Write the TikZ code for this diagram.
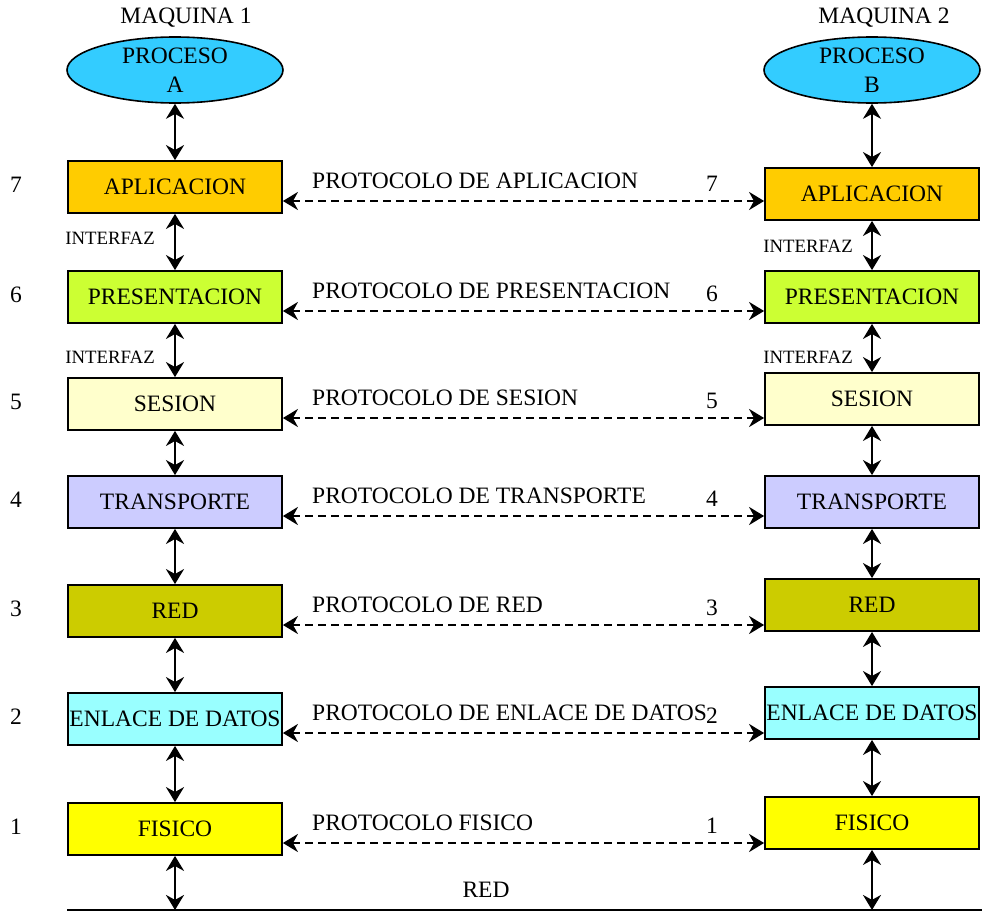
\documentclass[tikz,border=0pt]{standalone}
\usepackage{fontspec}
\setmainfont{Liberation Serif}
\usetikzlibrary{shapes.geometric,arrows.meta,calc}

\definecolor{proc}{HTML}{33CCFF}
\definecolor{capa7}{HTML}{FFCC00}
\definecolor{capa6}{HTML}{CCFF33}
\definecolor{capa5}{HTML}{FFFFCC}
\definecolor{capa4}{HTML}{CCCCFF}
\definecolor{capa3}{HTML}{CCCC00}
\definecolor{capa2}{HTML}{99FFFF}
\definecolor{capa1}{HTML}{FFFF00}

\begin{document}
\begin{tikzpicture}[
    x=1pt, y=-1pt,
    layer/.style={draw, line width=1.8pt, minimum width=214pt, minimum height=52pt, inner xsep=1pt, font=\fontsize{23.5}{27}\selectfont},
    proceso/.style={ellipse, draw, line width=1.6pt, fill=proc, minimum width=216pt, minimum height=66pt, inner sep=0pt, align=center, font=\fontsize{23.5}{29}\selectfont},
    link/.style={line width=2.2pt, {Stealth[length=15pt,width=18pt]}-{Stealth[length=15pt,width=18pt]}},
    proto/.style={link, line width=2.6pt, dash pattern=on 8pt off 5pt},
    biglabel/.style={font=\fontsize{23.5}{27}\selectfont, inner sep=0pt},
    smalllabel/.style={font=\fontsize{18.8}{21}\selectfont, inner sep=0pt},
]
\useasboundingbox (0,0) rectangle (982,912);

\def\xl{175}  \def\xr{872}

% Machines and processes
\node[biglabel] (m1) at (186,18) {MAQUINA 1};
\node[biglabel] (m2) at (884,18) {MAQUINA 2};
\node[proceso] (procA) at (\xl,70) {PROCESO\\A};
\node[proceso] (procB) at (\xr,70) {PROCESO\\B};

% Layers, numbers and peer protocols
\foreach \n/\txt/\col/\yl/\yr/\ptxt in {
    7/APLICACION/capa7/187/194/PROTOCOLO DE APLICACION,
    6/PRESENTACION/capa6/297/297/PROTOCOLO DE PRESENTACION,
    5/SESION/capa5/404/399/PROTOCOLO DE SESION,
    4/TRANSPORTE/capa4/502/502/PROTOCOLO DE TRANSPORTE,
    3/RED/capa3/611/605/PROTOCOLO DE RED,
    2/ENLACE DE DATOS/capa2/719/713/PROTOCOLO DE ENLACE DE DATOS,
    1/FISICO/capa1/829/823/PROTOCOLO FISICO} {
    \node[layer, fill=\col] (l\n) at (\xl,\yl) {\txt};
    \node[layer, fill=\col] (r\n) at (\xr,\yr) {\txt};
    \node[biglabel] (nl\n) at (16,\yl-2) {\n};
    \draw[proto] ([yshift=-14pt]l\n.east) coordinate (a\n) -- (a\n -| r\n.west);
    \node[biglabel, anchor=west] (p\n) at (312,\yl-6) {\ptxt};
    \node[biglabel] (nr\n) at (712,\yl-3) {\n};
}

% Interfaces between layers
\draw[link] (procA) -- (l7);
\draw[link] (procB) -- (r7);
\foreach \a/\b in {7/6,6/5,5/4,4/3,3/2,2/1} {
    \draw[link] (l\a) -- (l\b);
    \draw[link] (r\a) -- (r\b);
}
\node[smalllabel] (il1) at (110,238) {INTERFAZ};
\node[smalllabel] (il2) at (110,357) {INTERFAZ};
\node[smalllabel] (ir1) at (808,246) {INTERFAZ};
\node[smalllabel] (ir2) at (808,357) {INTERFAZ};

% Physical network
\coordinate (netA) at (67,910);
\coordinate (netB) at (982,910);
\draw[line width=1.2pt] (netA) -- (netB);
\node[biglabel] (net) at (486,890) {RED};
\draw[link] (l1) -- (l1 |- netA);
\draw[link] (r1) -- (r1 |- netA);

\end{tikzpicture}
\end{document}
